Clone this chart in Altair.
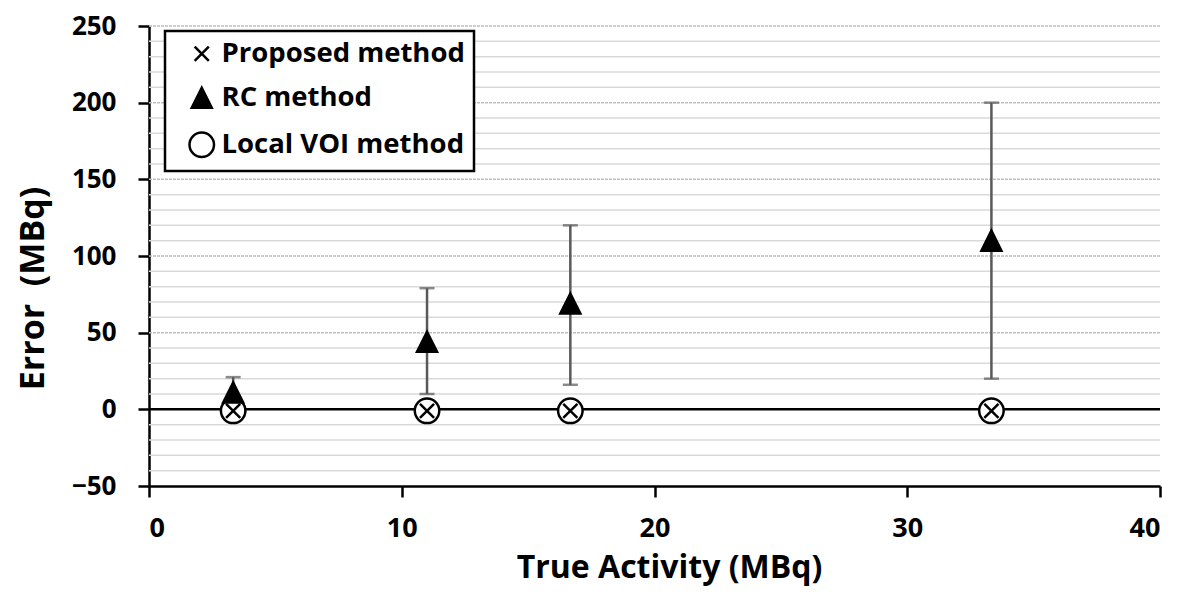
import altair as alt
import pandas as pd

# ---- data ----
activity = [3.33, 11.0, 16.67, 33.33]
rc_mean = [11, 44, 69, 110]
rc_low = [0, 10, 16, 20]
rc_high = [21, 79, 120, 200]
proposed = [-1, -1, -1, -1]
local_voi = [-1, -1, -1, -1]

methods = ["Proposed method", "RC method", "Local VOI method"]
y_ticks = [-50, 0, 50, 100, 150, 200, 250]
x_ticks = [0, 10, 20, 30, 40]
minor_grid = [v for v in range(-50, 251, 10) if v % 50 != 0]
major_grid = [v for v in range(-50, 251, 50) if v not in (0, -50)]

FONT = "Open Sans"

pts = pd.DataFrame(
    [{"x": a, "y": v, "method": "Local VOI method"} for a, v in zip(activity, local_voi)]
    + [{"x": a, "y": v, "method": "Proposed method"} for a, v in zip(activity, proposed)]
    + [{"x": a, "y": v, "method": "RC method"} for a, v in zip(activity, rc_mean)]
)
err = pd.DataFrame({"x": activity, "low": rc_low, "high": rc_high})
minor_df = pd.DataFrame({"g": minor_grid})
major_df = pd.DataFrame({"g": major_grid})
zero_df = pd.DataFrame({"g": [0]})

xscale = alt.Scale(domain=[0, 40], nice=False, zero=False)
yscale = alt.Scale(domain=[-50, 250], nice=False, zero=False)

xaxis = alt.Axis(
    values=x_ticks, grid=False, domainColor="black", domainWidth=2.5,
    tickColor="black", tickWidth=2.5, tickSize=11, labelPadding=18,
    labelFont=FONT, labelFontWeight="bold", labelFontSize=27, labelColor="black",
    title="True Activity (MBq)", titleFont=FONT, titleFontWeight="bold",
    titleFontSize=32, titleColor="black", titleBaseline="alphabetic",
    titleAlign="center", titleX=520, titleY=91,
)
yaxis = alt.Axis(
    values=y_ticks, grid=False, domainColor="black", domainWidth=2.5,
    tickColor="black", tickWidth=2.5, tickSize=11, labelPadding=22,
    labelFont=FONT, labelFontWeight="bold", labelFontSize=26, labelColor="black",
    title="Error\u00a0\u00a0(MBq)", titleFont=FONT, titleFontWeight="bold",
    titleFontSize=34, titleColor="black", titleBaseline="middle",
    titleX=-116, titleY=262,
)

minor = alt.Chart(minor_df).mark_rule(color="#d9d9d9", strokeWidth=1.5).encode(
    y=alt.Y("g:Q", scale=yscale, axis=yaxis)
)
major = alt.Chart(major_df).mark_rule(color="#bfbfbf", strokeWidth=1.5, strokeDash=[3, 1]).encode(
    y=alt.Y("g:Q", scale=yscale)
)
zero = alt.Chart(zero_df).mark_rule(color="black", strokeWidth=2.5).encode(
    y=alt.Y("g:Q", scale=yscale)
)

bars = alt.Chart(err).mark_rule(color="#595959", strokeWidth=2.5).encode(
    x=alt.X("x:Q", scale=xscale, axis=xaxis),
    y=alt.Y("low:Q", scale=yscale),
    y2="high:Q",
)
cap_lo = alt.Chart(err).mark_tick(color="#595959", thickness=2.5, size=15, orient="horizontal").encode(
    x=alt.X("x:Q", scale=xscale), y=alt.Y("low:Q", scale=yscale)
)
cap_hi = alt.Chart(err).mark_tick(color="#595959", thickness=2.5, size=15, orient="horizontal").encode(
    x=alt.X("x:Q", scale=xscale), y=alt.Y("high:Q", scale=yscale)
)

cross = "M-1,-1L1,1M-1,1L1,-1"
tri = "M0,-1L1,1L-1,1Z"

points = alt.Chart(pts).mark_point(strokeWidth=2.5, opacity=1).encode(
    x=alt.X("x:Q", scale=xscale),
    y=alt.Y("y:Q", scale=yscale),
    shape=alt.Shape("method:N", scale=alt.Scale(domain=methods, range=[cross, tri, "circle"]),
                    legend=alt.Legend(title=None)),
    fill=alt.Fill("method:N", scale=alt.Scale(domain=methods, range=["transparent", "black", "white"]),
                  legend=alt.Legend(title=None)),
    stroke=alt.Stroke("method:N", scale=alt.Scale(domain=methods, range=["black", "black", "black"]),
                      legend=alt.Legend(title=None)),
    size=alt.Size("method:N", scale=alt.Scale(domain=methods, range=[200, 600, 600]),
                  legend=alt.Legend(title=None)),
)

chart = alt.layer(minor, major, zero, bars, cap_lo, cap_hi, points).properties(
    width=1011, height=460,
    autosize=alt.AutoSizeParams(type="none"),
    padding={"left": 141, "top": 18, "right": 12, "bottom": 102},
).configure_view(stroke=None).configure_legend(
    orient="none", legendX=16, legendY=5,
    strokeColor="black", strokeWidth=2.5, fillColor="white",
    padding=9, symbolOffset=14, labelOffset=6, rowPadding=14, labelLimit=500,
    labelFont=FONT, labelFontWeight="bold", labelFontSize=27.5, labelColor="black",
    symbolStrokeWidth=2.5, cornerRadius=0,
).configure_axis(labelFontWeight="bold")

chart.save("out.html", embed_options={"renderer": "svg", "actions": False})
